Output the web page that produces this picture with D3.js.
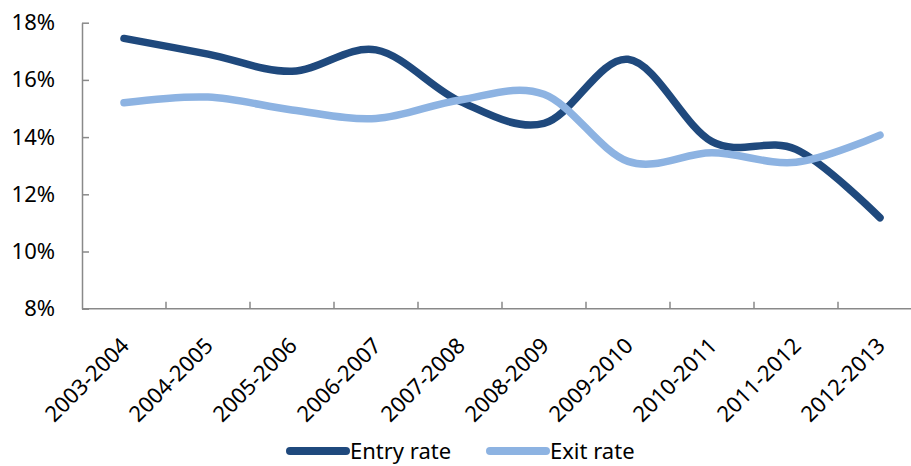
<!DOCTYPE html>
<html>
<head>
<meta charset="utf-8">
<script src="https://cdn.jsdelivr.net/npm/d3@7"></script>
<style>
  body { margin: 0; background: #fff; }
  svg { display: block; font-family: "Noto Sans", sans-serif; }
</style>
</head>
<body>
<svg id="chart" width="911" height="466"></svg>
<script>
// data
const periods = ["2003-2004", "2004-2005", "2005-2006", "2006-2007", "2007-2008",
                 "2008-2009", "2009-2010", "2010-2011", "2011-2012", "2012-2013"];
const entryRate = [17.45, 16.9, 16.3, 17.05, 15.25, 14.48, 16.72, 13.84, 13.57, 11.18];
const exitRate  = [15.2, 15.4, 14.95, 14.65, 15.3, 15.5, 13.15, 13.45, 13.12, 14.07];
const yTicks = [8, 10, 12, 14, 16, 18];

const series = [
    { name: "Entry rate", values: entryRate, color: "#1f497d" },
    { name: "Exit rate",  values: exitRate,  color: "#8db3e2" }
];

const svg = d3.select("#chart");

const x = d3.scaleBand().domain(periods).range([82, 922]);
const y = d3.scaleLinear().domain([8, 18]).range([308.7, 22.7]);

const axisColor = "#898989";

// y axis, ticks pointing inward
const yAxis = svg.append("g")
    .attr("transform", "translate(82,0)")
    .call(d3.axisLeft(y).tickValues(yTicks).tickSizeInner(-7).tickSizeOuter(0)
        .tickFormat(d => d + "%"));
yAxis.select(".domain").attr("stroke", axisColor).attr("stroke-width", 1.5);
yAxis.selectAll(".tick line").attr("stroke", axisColor).attr("stroke-width", 1.5);
yAxis.selectAll(".tick text")
    .attr("x", -27)
    .attr("font-size", 22)
    .attr("font-family", "Noto Sans")
    .attr("fill", "#000");

// x axis: ticks between categories, pointing up
const xAxis = svg.append("g").attr("transform", "translate(0,308.7)");
xAxis.append("line")
    .attr("x1", 82).attr("x2", 922)
    .attr("stroke", axisColor).attr("stroke-width", 1.5);
xAxis.selectAll("line.tk")
    .data(periods.slice(1))
    .join("line")
    .attr("class", "tk")
    .attr("x1", d => x(d)).attr("x2", d => x(d))
    .attr("y1", 0).attr("y2", -7)
    .attr("stroke", axisColor).attr("stroke-width", 1.5);
xAxis.selectAll("text")
    .data(periods)
    .join("text")
    .attr("transform", d => `translate(${x(d) + x.bandwidth() / 2 + 1},33) rotate(-45)`)
    .attr("text-anchor", "end")
    .attr("dy", "0.35em")
    .attr("font-size", 22)
    .attr("fill", "#000")
    .text(d => d);

// lines
const line = d3.line()
    .x((d, i) => x(periods[i]) + x.bandwidth() / 2)
    .y(d => y(d))
    .curve(d3.curveCardinal.tension(0));

svg.selectAll("path.series")
    .data(series)
    .join("path")
    .attr("class", "series")
    .attr("d", d => line(d.values))
    .attr("fill", "none")
    .attr("stroke", d => d.color)
    .attr("stroke-width", 7.5)
    .attr("stroke-linecap", "round")
    .attr("stroke-linejoin", "round");

// legend
const legendX = [290, 490];
const legend = svg.selectAll("g.legend")
    .data(series)
    .join("g")
    .attr("class", "legend")
    .attr("transform", (d, i) => `translate(${legendX[i]},451)`);
legend.append("line")
    .attr("x1", 0).attr("x2", 56)
    .attr("stroke", d => d.color)
    .attr("stroke-width", 8)
    .attr("stroke-linecap", "round");
legend.append("text")
    .attr("x", 60)
    .attr("dy", "0.35em")
    .attr("font-size", 22)
    .attr("fill", "#000")
    .text(d => d.name);
</script>
</body>
</html>
